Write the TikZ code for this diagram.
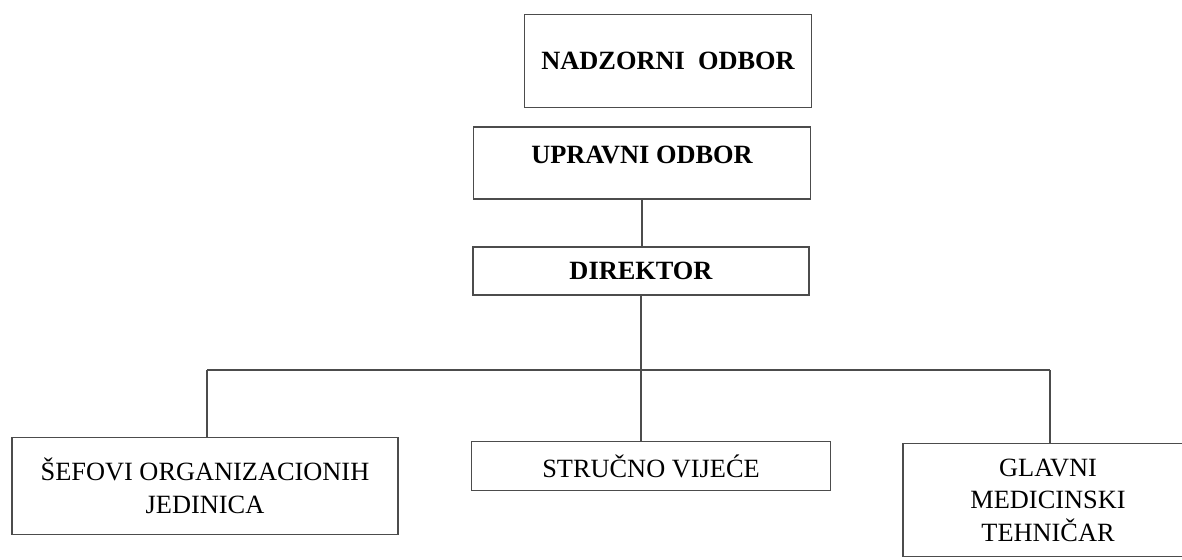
\documentclass[tikz,border=0pt]{standalone}
\usepackage{fontspec}
\setmainfont{Liberation Serif}
\usepackage{xcolor}
\usepackage{tikz}
\usetikzlibrary{positioning}

\begin{document}
\begin{tikzpicture}[x=0.02cm, y=-0.02cm,
        block/.style={rectangle, draw=black!70, line width=0.8pt, align=center, inner sep=0pt, font=\fontsize{15}{18.5}\selectfont},
        head/.style={block, font=\fontsize{15}{18.5}\selectfont\bfseries},
        line/.style={draw=black!70, line width=0.8pt}
    ]
        \useasboundingbox (0,0) rectangle (1182,560);

        % Blocks
        \node[head, minimum width=5.74cm, minimum height=1.86cm] (nadzorni) at (668,61) {NADZORNI~~ODBOR};
        \node[head, minimum width=6.74cm, minimum height=1.44cm, text depth=9pt] (upravni) at (642,163) {UPRAVNI ODBOR};
        \node[head, minimum width=6.72cm, minimum height=0.96cm] (direktor) at (641,271) {DIREKTOR};
        \node[block, minimum width=7.72cm, minimum height=1.94cm] (sefovi) at (205,486) {ŠEFOVI ORGANIZACIONIH\\JEDINICA};
        \node[block, minimum width=7.18cm, minimum height=0.98cm] (strucno) at (651,466) {STRUČNO VIJEĆE};
        \node[block, minimum width=5.8cm, minimum height=2.26cm] (glavni) at (1048,500) {GLAVNI\\MEDICINSKI\\TEHNIČAR};

        % Bus
        \coordinate (busL) at (207,370);
        \coordinate (busR) at (1050,370);

        % Lines
        \draw[line] (upravni.south) -- (upravni.south |- direktor.north);
        \draw[line] (direktor.south) -- (direktor.south |- strucno.north);
        \draw[line] (busL) -- (busR);
        \draw[line] (busL) -- (busL |- sefovi.north);
        \draw[line] (busR) -- (busR |- glavni.north);

    \end{tikzpicture}
\end{document}
